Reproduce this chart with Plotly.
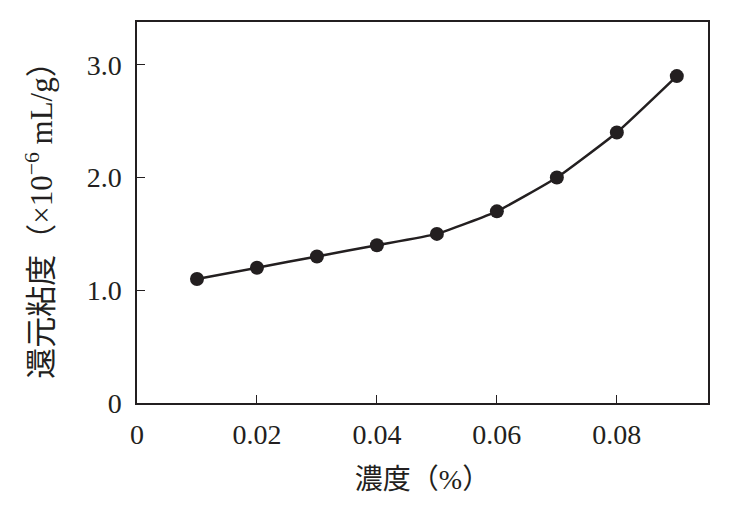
import plotly.graph_objects as go

concentration = [0.01, 0.02, 0.03, 0.04, 0.05, 0.06, 0.07, 0.08, 0.09]
viscosity = [1.1, 1.2, 1.3, 1.4, 1.5, 1.7, 2.0, 2.4, 2.9]

x_ticks = [0, 0.02, 0.04, 0.06, 0.08]
x_labels = ["0", "0.02", "0.04", "0.06", "0.08"]
y_ticks = [0, 1.0, 2.0, 3.0]
y_labels = ["0", "1.0", "2.0", "3.0"]

ink = "#231f20"
font_family = "Liberation Serif, Noto Sans CJK JP, serif"

fig = go.Figure()
fig.add_trace(go.Scatter(
    x=concentration,
    y=viscosity,
    mode="lines+markers",
    line=dict(color=ink, width=2.5, shape="spline", smoothing=0.4),
    marker=dict(color=ink, size=14),
    showlegend=False,
))

fig.update_layout(
    width=715,
    height=495,
    plot_bgcolor="white",
    paper_bgcolor="white",
    margin=dict(l=129, r=15, t=14, b=100),
    font=dict(family=font_family, size=28, color=ink),
    xaxis=dict(
        range=[0, 0.0952],
        tickvals=x_ticks,
        ticktext=x_labels,
        ticks="inside",
        ticklen=8,
        tickcolor=ink,
        ticklabelstandoff=6,
        showline=True,
        linecolor=ink,
        linewidth=1.5,
        mirror=True,
        showgrid=False,
        zeroline=False,
        title=dict(text="濃度（%）", standoff=20, font=dict(size=28)),
    ),
    yaxis=dict(
        range=[0, 3.38],
        tickvals=y_ticks,
        ticktext=y_labels,
        ticks="inside",
        ticklen=8,
        tickcolor=ink,
        ticklabelstandoff=8,
        showline=True,
        linecolor=ink,
        linewidth=1.5,
        mirror=True,
        showgrid=False,
        zeroline=False,
        title=dict(text="還元粘度（×10<sup>−6</sup> mL/g）", standoff=25, font=dict(size=31)),
    ),
)

fig.write_html("out.html")
